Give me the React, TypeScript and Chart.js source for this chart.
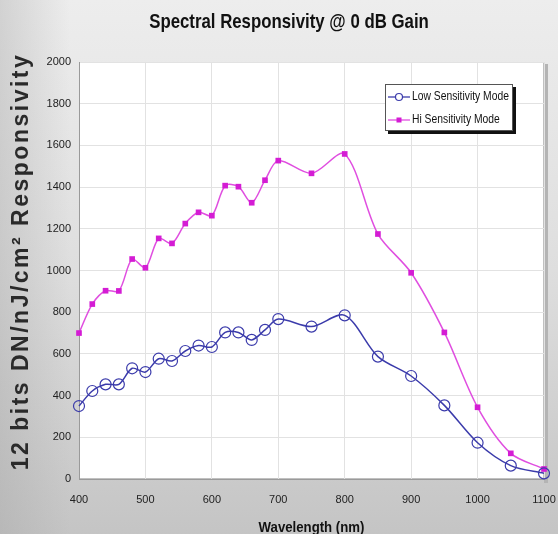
import React, { useEffect, useRef } from "react";
import { Chart, registerables } from "chart.js";

Chart.register(...registerables);

const chartTitle = "Spectral Responsivity @ 0 dB Gain";
const yAxisTitle = "12 bits DN/nJ/cm² Responsivity";
const xAxisTitle = "Wavelength (nm)";
const seriesLabels = ["Low Sensitivity Mode", "Hi Sensitivity Mode"];

const wavelengths = [400, 420, 440, 460, 480, 500, 520, 540, 560, 580, 600, 620, 640, 660, 680, 700, 750, 800, 850, 900, 950, 1000, 1050, 1100];
const lowValues = [350, 422, 454, 454, 531, 513, 577, 566, 614, 640, 633, 703, 703, 667, 715, 767, 731, 785, 587, 494, 353, 174, 64, 27];
const hiValues = [700, 839, 903, 902, 1055, 1013, 1154, 1130, 1225, 1279, 1263, 1407, 1402, 1325, 1433, 1527, 1466, 1559, 1175, 989, 703, 344, 123, 48];

const xTickValues = [400, 500, 600, 700, 800, 900, 1000, 1100];
const yTickValues = [0, 200, 400, 600, 800, 1000, 1200, 1400, 1600, 1800, 2000];

const LOW_COLOR = "#3b3bab";
const HI_LINE = "#e04ee0";
const HI_POINT = "#d41cd4";
const SANS = "'Liberation Sans', Arial, sans-serif";

const backgroundPlugin = {
  id: "bgPlugin",
  beforeDraw(chart: any) {
    const { ctx, width, height, chartArea } = chart;
    ctx.save();
    const g = ctx.createLinearGradient(0, 0, 0, height);
    g.addColorStop(0, "#ededed");
    g.addColorStop(0.5, "#dedede");
    g.addColorStop(1, "#c4c4c4");
    ctx.fillStyle = g;
    ctx.fillRect(0, 0, width, height);
    const h = ctx.createLinearGradient(0, 0, 70, 0);
    h.addColorStop(0, "rgba(160,160,160,0.35)");
    h.addColorStop(1, "rgba(160,160,160,0)");
    ctx.fillStyle = h;
    ctx.fillRect(0, 0, 70, height);
    ctx.fillStyle = "#b4b4b4";
    ctx.fillRect(chartArea.right, chartArea.top + 2, 4, chartArea.height + 2);
    ctx.fillStyle = "#ffffff";
    ctx.fillRect(chartArea.left, chartArea.top, chartArea.width, chartArea.height);
    ctx.strokeStyle = "#c0c0c0";
    ctx.lineWidth = 1;
    ctx.strokeRect(chartArea.left + 0.5, chartArea.top + 0.5, chartArea.width - 1, chartArea.height - 1);
    ctx.restore();
  },
};

const textPlugin = {
  id: "texts",
  afterDraw(chart: any) {
    const { ctx, chartArea } = chart;
    ctx.save();
    ctx.translate(289, 22);
    ctx.scale(0.8, 1);
    ctx.fillStyle = "#111";
    ctx.font = `bold 21px ${SANS}`;
    ctx.textAlign = "center";
    ctx.textBaseline = "middle";
    ctx.fillText(chartTitle, 0, 0);
    ctx.restore();

    ctx.save();
    ctx.translate(22, (chartArea.top + chartArea.bottom) / 2 - 9);
    ctx.rotate(-Math.PI / 2);
    ctx.fillStyle = "#2a2a2a";
    ctx.font = `bold 23px ${SANS}`;
    (ctx as any).letterSpacing = "2.5px";
    ctx.textAlign = "center";
    ctx.textBaseline = "middle";
    ctx.fillText(yAxisTitle, 0, 0);
    ctx.restore();

    ctx.save();
    ctx.translate((chartArea.left + chartArea.right) / 2, 528);
    ctx.scale(0.88, 1);
    ctx.fillStyle = "#111";
    ctx.font = `bold 15px ${SANS}`;
    ctx.textAlign = "center";
    ctx.textBaseline = "middle";
    ctx.fillText(xAxisTitle, 0, 0);
    ctx.restore();
  },
};

const legendPlugin = {
  id: "boxLegend",
  afterDraw(chart: any) {
    const { ctx } = chart;
    const x = 385, y = 84, w = 128, h = 47;
    ctx.save();
    ctx.fillStyle = "#111";
    ctx.fillRect(x + 3, y + 3, w, h);
    ctx.fillStyle = "#fff";
    ctx.fillRect(x, y, w, h);
    ctx.strokeStyle = "#555";
    ctx.lineWidth = 1;
    ctx.strokeRect(x + 0.5, y + 0.5, w - 1, h - 1);
    ctx.beginPath();
    ctx.rect(x, y, w - 1, h);
    ctx.clip();
    const rows = [y + 13, y + 36];
    chart.data.datasets.forEach((ds: any, i: number) => {
      const ry = rows[i];
      ctx.strokeStyle = ds.borderColor;
      ctx.lineWidth = 1.3;
      ctx.beginPath();
      ctx.moveTo(x + 3, ry);
      ctx.lineTo(x + 25, ry);
      ctx.stroke();
      if (ds.pointStyle === "circle") {
        ctx.beginPath();
        ctx.arc(x + 14, ry, 3.5, 0, Math.PI * 2);
        ctx.fillStyle = "#fff";
        ctx.fill();
        ctx.strokeStyle = ds.pointBorderColor;
        ctx.lineWidth = 1.2;
        ctx.stroke();
      } else {
        ctx.fillStyle = ds.pointBackgroundColor;
        ctx.fillRect(x + 11.5, ry - 2.5, 5, 5);
      }
      ctx.save();
      ctx.translate(x + 27, ry);
      ctx.scale(0.86, 1);
      ctx.fillStyle = "#111";
      ctx.font = `12px ${SANS}`;
      ctx.textBaseline = "middle";
      ctx.textAlign = "left";
      ctx.fillText(ds.label, 0, 0);
      ctx.restore();
    });
    ctx.restore();
  },
};

export default function App() {
  const canvasRef = useRef<HTMLCanvasElement | null>(null);

  useEffect(() => {
    if (!canvasRef.current) return;
    const chart = new Chart(canvasRef.current, {
      type: "line",
      data: {
        datasets: [
          {
            label: seriesLabels[0],
            data: wavelengths.map((w, i) => ({ x: w, y: lowValues[i] })),
            borderColor: LOW_COLOR,
            borderWidth: 1.5,
            pointStyle: "circle",
            pointRadius: 5.5,
            pointBorderWidth: 1.2,
            pointBorderColor: LOW_COLOR,
            pointBackgroundColor: "rgba(255,255,255,0)",
            tension: 0.3,
            fill: false,
            clip: false,
          },
          {
            label: seriesLabels[1],
            data: wavelengths.map((w, i) => ({ x: w, y: hiValues[i] })),
            borderColor: HI_LINE,
            borderWidth: 1.5,
            pointStyle: "rect",
            pointRadius: 4,
            pointBorderWidth: 0,
            pointBorderColor: HI_POINT,
            pointBackgroundColor: HI_POINT,
            tension: 0.3,
            fill: false,
            clip: false,
          },
        ],
      },
      options: {
        animation: false,
        responsive: false,
        maintainAspectRatio: false,
        layout: { padding: { left: 0, right: 14, top: 62, bottom: 0 } },
        plugins: {
          legend: { display: false },
          tooltip: { enabled: false },
          title: { display: false },
        },
        scales: {
          x: {
            type: "linear",
            min: 400,
            max: 1100,
            afterBuildTicks: (s: any) => {
              s.ticks = xTickValues.map((v) => ({ value: v }));
            },
            afterFit: (s: any) => {
              s.height = 61;
              s.paddingLeft = 0;
              s.paddingRight = 0;
            },
            grid: { color: "#e2e2e2", drawTicks: false },
            border: { color: "#9a9a9a" },
            ticks: {
              color: "#222",
              padding: 14,
              maxRotation: 0,
              font: { family: SANS, size: 11 },
              callback: (v: any) => String(v),
            },
          },
          y: {
            type: "linear",
            min: 0,
            max: 2000,
            afterBuildTicks: (s: any) => {
              s.ticks = yTickValues.map((v) => ({ value: v }));
            },
            afterFit: (s: any) => {
              s.width = 79;
              s.paddingTop = 0;
              s.paddingBottom = 0;
            },
            grid: { color: "#e2e2e2", drawTicks: false },
            border: { color: "#9a9a9a" },
            ticks: {
              color: "#222",
              padding: 8,
              font: { family: SANS, size: 11 },
              callback: (v: any) => String(v),
            },
          },
        },
      },
      plugins: [backgroundPlugin, textPlugin, legendPlugin],
    });
    return () => chart.destroy();
  }, []);

  return (
    <div style={{ position: "absolute", left: 0, top: 0, width: 558, height: 534, overflow: "hidden" }}>
      <canvas ref={canvasRef} width={558} height={540} style={{ display: "block", width: 558, height: 540 }} />
    </div>
  );
}
